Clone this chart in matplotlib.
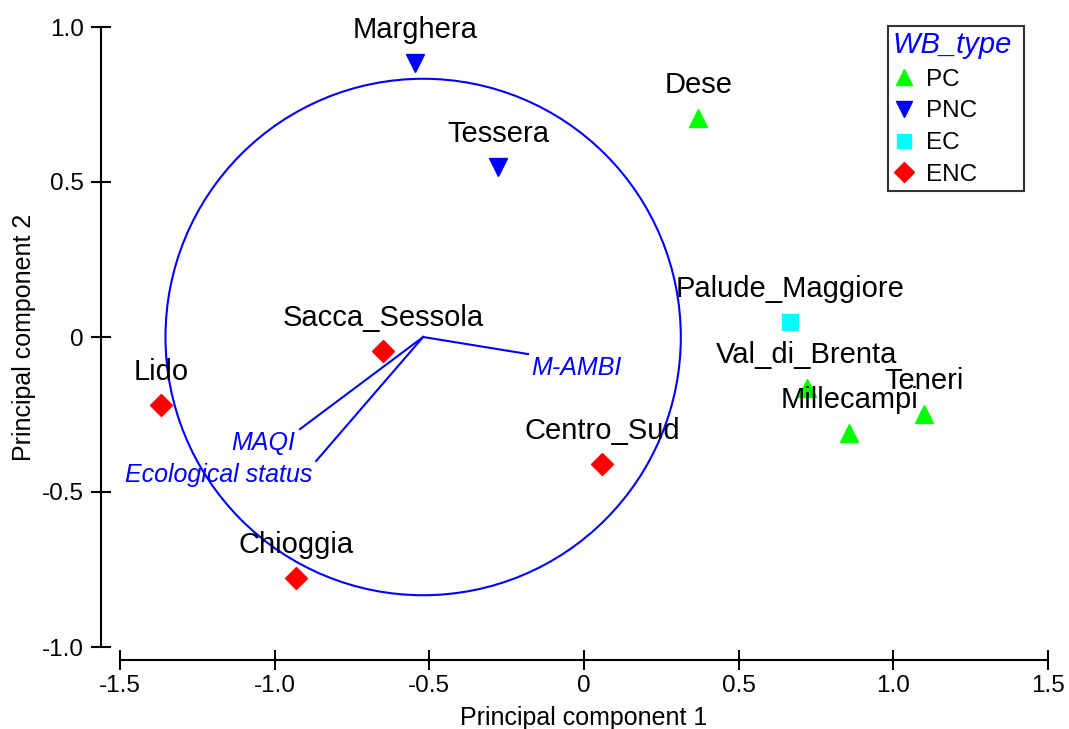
import matplotlib
matplotlib.use("Agg")
import matplotlib.pyplot as plt
from matplotlib.patches import Circle
from matplotlib.lines import Line2D

plt.rcParams['font.family'] = ['Liberation Sans', 'DejaVu Sans']

# sites: name, PC1, PC2, WB type
sites = ['Marghera', 'Tessera', 'Dese', 'Palude_Maggiore', 'Val_di_Brenta',
         'Millecampi', 'Teneri', 'Sacca_Sessola', 'Lido', 'Centro_Sud', 'Chioggia']
pc1 = [-0.546, -0.278, 0.369, 0.666, 0.721, 0.857, 1.099, -0.650, -1.368, 0.058, -0.931]
pc2 = [0.884, 0.548, 0.706, 0.048, -0.165, -0.310, -0.248, -0.045, -0.219, -0.410, -0.777]
wb_type = ['PNC', 'PNC', 'PC', 'EC', 'PC', 'PC', 'PC', 'ENC', 'ENC', 'ENC', 'ENC']

# biplot arrows (from circle centre)
origin = (-0.52, 0.0)
vec_names = ['M-AMBI', 'MAQI', 'Ecological status']
vec_x = [-0.181, -0.918, -0.866]
vec_y = [-0.055, -0.297, -0.400]
circle_r = 0.833

types = ['PC', 'PNC', 'EC', 'ENC']
markers = {'PC': '^', 'PNC': 'v', 'EC': 's', 'ENC': 'D'}
colors = {'PC': '#00ff00', 'PNC': '#0000ff', 'EC': '#00ffff', 'ENC': '#ff0000'}
msizes = {'PC': 13, 'PNC': 13, 'EC': 11.5, 'ENC': 11}

fig = plt.figure(figsize=(10.69, 7.29), dpi=100)
ax = fig.add_axes([120 / 1069, 1 - 647 / 729, 928 / 1069, 620 / 729])
ax.set_xlim(-1.5, 1.5)
ax.set_ylim(-1.0, 1.0)

# circle and vectors
ax.add_patch(Circle(origin, circle_r, fill=False, ec='#0000ff', lw=1.5, clip_on=False))
for vx, vy in zip(vec_x, vec_y):
    ax.plot([origin[0], vx], [origin[1], vy], color='#0000ff', lw=1.5)
ax.text(vec_x[0] + 0.01, vec_y[0] - 0.045, vec_names[0], color='#0000ff', style='italic',
        fontsize=18, ha='left', va='center')
ax.text(vec_x[1] - 0.015, vec_y[1] - 0.045, vec_names[1], color='#0000ff', style='italic',
        fontsize=18, ha='right', va='center')
ax.text(vec_x[2] - 0.013, vec_y[2] - 0.045, vec_names[2], color='#0000ff', style='italic',
        fontsize=18, ha='right', va='center')

# site markers and labels
for name, x, y, t in zip(sites, pc1, pc2, wb_type):
    ax.plot(x, y, marker=markers[t], color=colors[t], ms=msizes[t], ls='none', clip_on=False)
    ax.annotate(name, (x, y), xytext=(0, 18), textcoords='offset points',
                ha='center', va='baseline', fontsize=21)

# axes styling
for s in ['top', 'right']:
    ax.spines[s].set_visible(False)
ax.spines['left'].set_position(('outward', 14))
ax.spines['bottom'].set_position(('outward', 9.5))
ax.spines['left'].set_bounds(-1, 1)
ax.spines['bottom'].set_bounds(-1.5, 1.5)
for s in ['left', 'bottom']:
    ax.spines[s].set_linewidth(1.5)
ax.set_xticks([-1.5, -1.0, -0.5, 0, 0.5, 1.0, 1.5])
ax.set_xticklabels(['-1.5', '-1.0', '-0.5', '0', '0.5', '1.0', '1.5'])
ax.set_yticks([-1.0, -0.5, 0, 0.5, 1.0])
ax.set_yticklabels(['-1.0', '-0.5', '0', '0.5', '1.0'])
ax.tick_params(direction='inout', length=14, width=1.5, labelsize=17.5)
ax.tick_params(axis='x', pad=4)
ax.tick_params(axis='y', pad=5)
ax.set_xlabel('Principal component 1', fontsize=18, labelpad=6)
ax.set_ylabel('Principal component 2', fontsize=18, labelpad=4)

# legend
handles = [Line2D([], [], marker=markers[t], color=colors[t], ls='none', ms=msizes[t] * 0.9)
           for t in types]
leg = fig.legend(handles, types, loc='upper left', bbox_to_anchor=(888 / 1069, 1 - 26 / 729),
                 fontsize=17.5, frameon=True, fancybox=False, edgecolor='black',
                 handlelength=0.9, handletextpad=0.45, borderpad=0.2, labelspacing=0.4,
                 borderaxespad=0, alignment='left', title='WB_type ',
                 title_fontproperties={'size': 21, 'style': 'italic'})
leg.get_title().set_color('#0000ff')
leg.get_frame().set_linewidth(1.5)

fig.savefig('out.png', dpi=100)
